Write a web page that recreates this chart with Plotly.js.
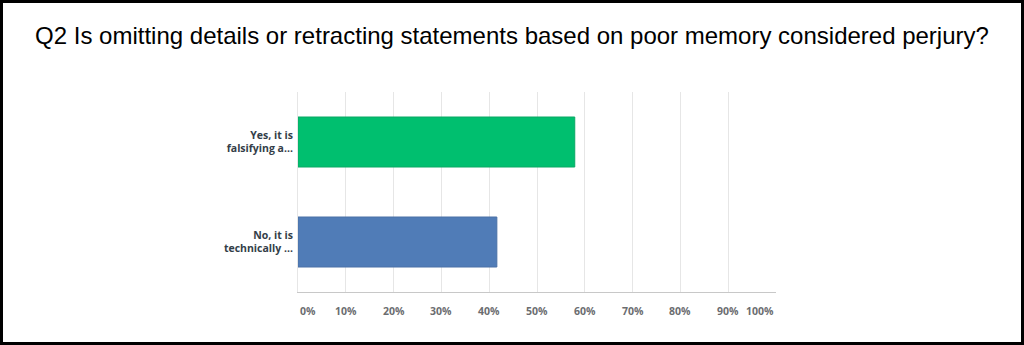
<!DOCTYPE html>
<html>
<head>
<meta charset="utf-8">
<script src="https://cdn.plot.ly/plotly-3.0.1.min.js"></script>
<style>
  html, body { margin: 0; padding: 0; background: #ffffff; }
  #frame { box-sizing: border-box; width: 1024px; height: 345px; border: 3px solid #000; background: #fff; overflow: hidden; }
  #chart { width: 1018px; height: 339px; }
</style>
</head>
<body>
<div id="frame"><div id="chart"></div></div>
<script>
// Data
const categories = ["Yes, it is<br>falsifying a...", "No, it is<br>technically ..."];
const values = [57.9, 41.6];
const barColors = ["#00bf6f", "#507cb7"];
const barLineColors = ["#0aa865", "#4a70a6"];
const tickValues = [0, 10, 20, 30, 40, 50, 60, 70, 80, 90, 100];
const tickLabels = ["0%", "10%", "20%", "30%", "40%", "50%", "60%", "70%", "80%", "90%", "100%"];
const titleText = "Q2 Is omitting details or retracting statements based on poor memory considered perjury?";

const trace = {
  type: "bar",
  orientation: "h",
  y: categories,
  x: values,
  width: 0.5,
  marker: { color: barColors, line: { color: barLineColors, width: 1 } },
  hoverinfo: "none"
};

const annotations = tickValues.map((v, i) => ({
  x: v, xref: "x",
  y: 0, yref: "paper",
  yanchor: "top",
  yshift: -10,
  xanchor: i === 0 ? "left" : (i === tickValues.length - 1 ? "right" : "center"),
  text: tickLabels[i],
  showarrow: false,
  font: { family: "Open Sans, sans-serif", size: 10.5, color: "#6b6d70", weight: "bold" }
}));

const layout = {
  width: 1018,
  height: 339,
  margin: { l: 295, r: 245, t: 89, b: 50 },
  paper_bgcolor: "#ffffff",
  plot_bgcolor: "#ffffff",
  showlegend: false,
  title: {
    text: titleText,
    x: 0.5, xanchor: "center",
    y: 0.903, yanchor: "middle", yref: "container",
    font: { family: "Liberation Sans, Arial, sans-serif", size: 24, color: "#000000" }
  },
  xaxis: {
    range: [0, 100],
    tickvals: tickValues,
    showticklabels: false,
    showgrid: true,
    gridcolor: "#e6e6e6",
    gridwidth: 1,
    zeroline: false,
    showline: true,
    linecolor: "#c8c8c8",
    linewidth: 1,
    ticks: "",
    fixedrange: true
  },
  yaxis: {
    autorange: "reversed",
    type: "category",
    showgrid: false,
    zeroline: false,
    showline: true,
    linecolor: "#e6e6e6",
    ticks: "",
    ticklabelstandoff: 2,
    tickfont: { family: "Open Sans, sans-serif", size: 10.5, color: "#333e48", weight: "bold" },
    fixedrange: true
  },
  annotations: annotations
};

Plotly.newPlot("chart", [trace], layout, { staticPlot: true, displayModeBar: false });
</script>
</body>
</html>
